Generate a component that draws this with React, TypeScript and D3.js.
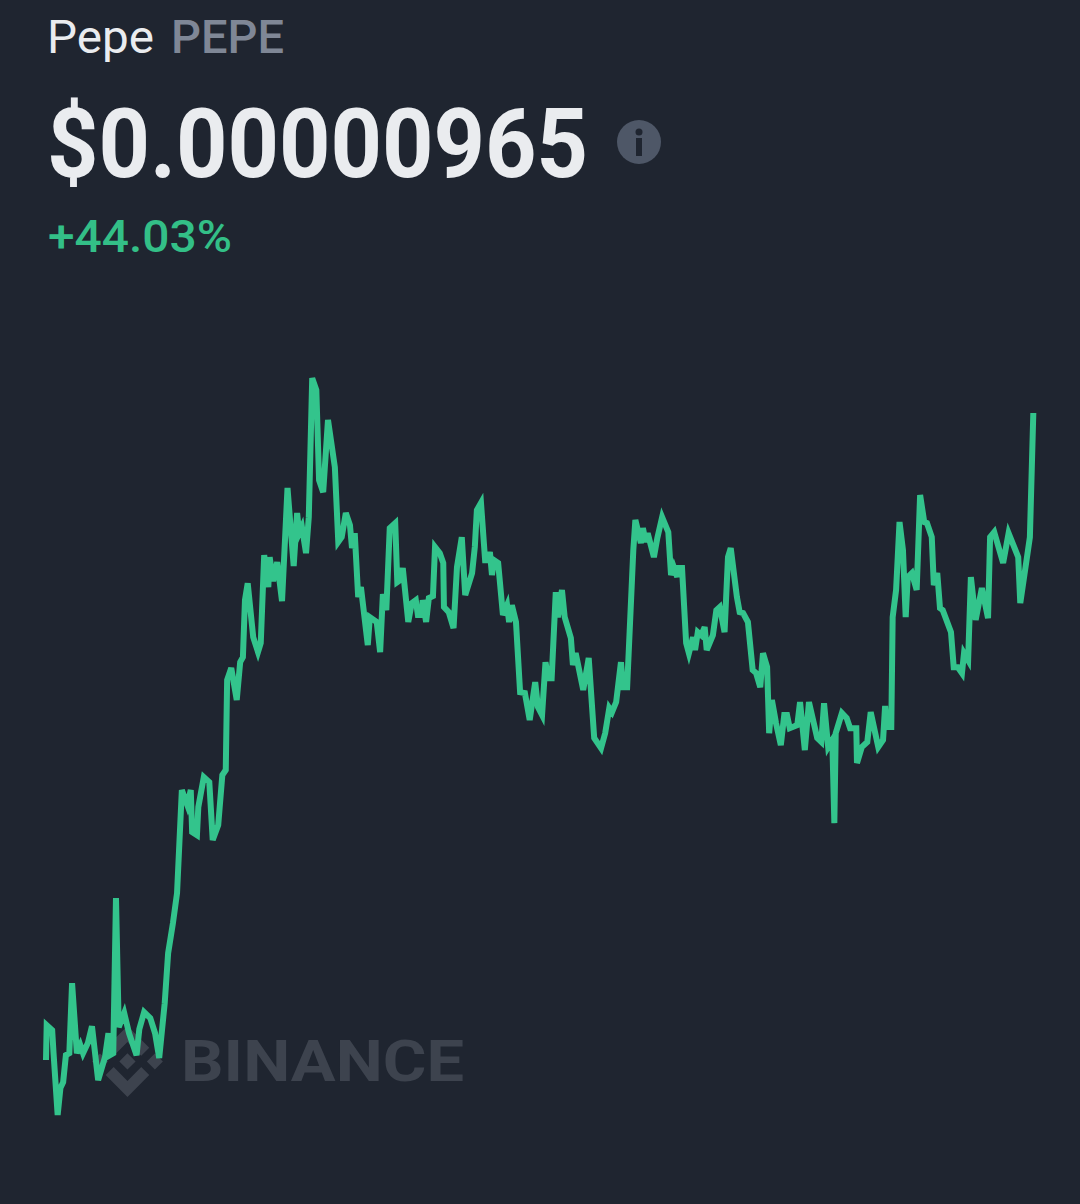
import * as d3 from "d3";

// minutes since the start of the 24h window
const minutes = [
  0, 1, 9, 11, 17, 21, 25, 29, 34, 38, 45, 50, 54, 61, 67, 76, 86, 91, 93, 98,
  102, 106, 114, 121, 132, 136, 143, 152, 159, 165, 173, 178, 185, 191, 198, 206, 211, 213, 220, 222,
  230, 238, 243, 251, 257, 262, 264, 270, 278, 283, 287, 290, 294, 302, 309, 313, 318, 324, 326, 331,
  337, 344, 352, 361, 366, 369, 373, 379, 383, 388, 394, 398, 404, 411, 421, 426, 431, 437, 443, 446,
  450, 455, 459, 469, 472, 482, 487, 491, 496, 501, 509, 512, 516, 520, 528, 533, 539, 542, 548, 549,
  554, 558, 564, 567, 574, 579, 580, 587, 594, 599, 606, 611, 621, 625, 628, 634, 640, 644, 647, 650,
  653, 659, 666, 672, 675, 679, 685, 691, 698, 705, 713, 717, 723, 728, 732, 737, 743, 746, 752, 756,
  765, 768, 772, 783, 791, 799, 809, 815, 821, 825, 831, 838, 841, 847, 856, 859, 867, 870, 874, 877,
  886, 891, 898, 907, 911, 915, 920, 921, 927, 933, 937, 943, 946, 950, 955, 960, 963, 972, 977, 982,
  989, 994, 998, 1007, 1011, 1016, 1023, 1030, 1035, 1041, 1045, 1051, 1054, 1058, 1064, 1071, 1076, 1080, 1084, 1095,
  1099, 1106, 1112, 1124, 1130, 1134, 1140, 1146, 1149, 1151, 1160, 1167, 1172, 1181, 1182, 1189, 1197, 1202, 1213, 1220,
  1223, 1226, 1232, 1234, 1239, 1244, 1249, 1253, 1256, 1262, 1269, 1274, 1280, 1284, 1291, 1294, 1299, 1303, 1307, 1319,
  1323, 1329, 1335, 1338, 1344, 1348, 1355, 1364, 1373, 1376, 1382, 1395, 1403, 1417, 1420, 1434, 1439,
];

// price in units of 1e-8 USD
const prices = [
  670.0, 685.9, 683.6, 673.1, 644.9, 657.2, 659.9, 672.2, 673.1, 705.0, 673.1, 676.8, 673.1, 677.7, 685.4, 660.8, 671.3, 682.2, 672.2, 673.1,
  743.8, 685.0, 691.4, 682.2, 672.2, 684.1, 691.8, 689.1, 682.2, 670.9, 695.9, 718.7, 732.4, 746.1, 793.1, 786.2, 793.1, 773.9, 772.5, 785.3,
  799.0, 796.7, 770.3, 777.1, 799.9, 802.2, 843.2, 848.7, 834.1, 851.4, 853.7, 879.7, 887.4, 862.8, 856.0, 860.1, 900.2, 885.6, 899.3, 888.4,
  897.0, 879.2, 930.8, 895.2, 919.4, 910.2, 913.0, 901.1, 917.5, 980.9, 975.5, 934.4, 928.9, 961.8, 940.3, 906.2, 908.4, 919.4, 913.9, 903.4,
  910.2, 881.1, 885.6, 859.2, 871.9, 869.7, 856.0, 882.4, 875.1, 912.5, 914.8, 887.9, 888.8, 894.3, 869.7, 878.3, 879.7, 872.9, 872.9, 879.7,
  869.7, 880.6, 881.5, 903.9, 901.1, 896.6, 876.5, 874.2, 866.9, 894.7, 908.4, 882.0, 892.0, 903.9, 920.7, 924.0, 897.9, 897.9, 901.6, 891.1,
  897.9, 896.6, 872.9, 877.4, 869.7, 877.4, 869.7, 837.7, 837.3, 825.0, 842.3, 830.9, 827.3, 851.4, 844.1, 844.1, 883.3, 871.9, 884.3, 871.9,
  862.4, 850.1, 855.5, 838.7, 853.3, 816.8, 812.2, 819.0, 830.5, 828.6, 833.2, 851.4, 840.0, 840.0, 902.5, 916.2, 905.7, 912.5, 906.2, 910.2,
  899.3, 908.0, 917.5, 910.7, 891.1, 894.7, 890.2, 894.3, 894.3, 860.1, 855.5, 862.8, 856.9, 865.1, 863.7, 867.4, 856.9, 863.7, 875.1, 876.5,
  865.1, 899.3, 903.4, 881.1, 874.2, 873.8, 869.7, 847.8, 846.4, 840.0, 855.5, 849.2, 819.0, 834.1, 823.6, 813.6, 827.3, 827.3, 821.3, 822.7,
  833.2, 811.3, 833.2, 816.8, 815.0, 832.7, 812.7, 815.9, 778.0, 819.0, 828.2, 825.9, 821.3, 821.3, 805.4, 812.7, 815.0, 828.6, 812.7, 815.9,
  831.4, 821.8, 821.8, 871.9, 884.3, 915.3, 902.5, 871.9, 890.2, 892.0, 884.3, 927.6, 915.3, 914.8, 908.4, 886.5, 892.0, 876.0, 875.1, 865.1,
  849.1, 849.1, 846.4, 855.5, 852.3, 890.2, 870.6, 885.2, 871.5, 908.4, 910.7, 896.6, 910.2, 899.3, 878.3, 908.4, 965.0,
];

const coinName = "Pepe";
const coinSymbol = "PEPE";
const priceLabel = "$0.00000965";
const changeLabel = "+44.03%";

const LOGO_OUTER =
  "M38.73 53.2l24.59-24.58 24.6 24.6 14.3-14.31L63.32 0 24.42 38.9l14.31 14.3zM0 63.31L14.3 49l14.31 14.31-14.31 14.3zM38.73 73.41l24.59 24.59 24.6-24.6 14.31 14.29-38.9 38.91-38.91-38.88v-.03zM98 63.31L112.3 49l14.31 14.3-14.31 14.32z";
const LOGO_CENTER = "M77.83 63.3L63.32 48.78 52.59 59.51l-1.24 1.23-2.54 2.54 14.51 14.5 14.51-14.47z";

const FONT = "Roboto, sans-serif";

export default function App() {
  const width = 1080;
  const height = 1204;

  const x = d3.scaleLinear().domain([0, 1440]).range([46, 1034]);
  const y = d3.scaleLinear().domain([670, 965]).range([1060, 413]);

  const line = d3
    .line<number>()
    .x((_, i) => x(minutes[i]))
    .y((d) => y(d));

  return (
    <svg
      width={width}
      height={height}
      viewBox={`0 0 ${width} ${height}`}
      style={{ position: "absolute", left: 0, top: 0, background: "#1f2530" }}
    >
      {/* header */}
      <text x={47} y={53} fontFamily={FONT} fontSize={46} fill="#eaecef" textLength={107} lengthAdjust="spacingAndGlyphs">
        {coinName}
      </text>
      <text x={171} y={53} fontFamily={FONT} fontSize={46} fontWeight={500} fill="#7f8796" textLength={113} lengthAdjust="spacingAndGlyphs">
        {coinSymbol}
      </text>
      <text x={47} y={177} fontFamily={FONT} fontSize={97} fontWeight={700} fill="#eaecef" textLength={541} lengthAdjust="spacingAndGlyphs">
        {priceLabel}
      </text>
      <text x={48} y={252} fontFamily={FONT} fontSize={45} fontWeight={500} fill="#33bf87" textLength={184} lengthAdjust="spacingAndGlyphs">
        {changeLabel}
      </text>

      {/* info icon */}
      <circle cx={639} cy={142} r={22} fill="#4e5767" />
      <circle cx={639} cy={132} r={3.5} fill="#1f2530" />
      <rect x={636} y={138} width={6} height={18} fill="#1f2530" />

      {/* watermark */}
      <g transform="translate(92,1026) scale(0.56)" fill="#3d434e">
        <path d={LOGO_OUTER} />
        <path d={LOGO_CENTER} />
      </g>
      <text x={181} y={1081} fontFamily={FONT} fontSize={57} fontWeight={700} fill="#3d434e" textLength={283} lengthAdjust="spacingAndGlyphs">
        BINANCE
      </text>

      {/* price line */}
      <path d={line(prices) ?? ""} fill="none" stroke="#33c48c" strokeWidth={6} strokeLinejoin="miter" strokeMiterlimit={4} />
    </svg>
  );
}
